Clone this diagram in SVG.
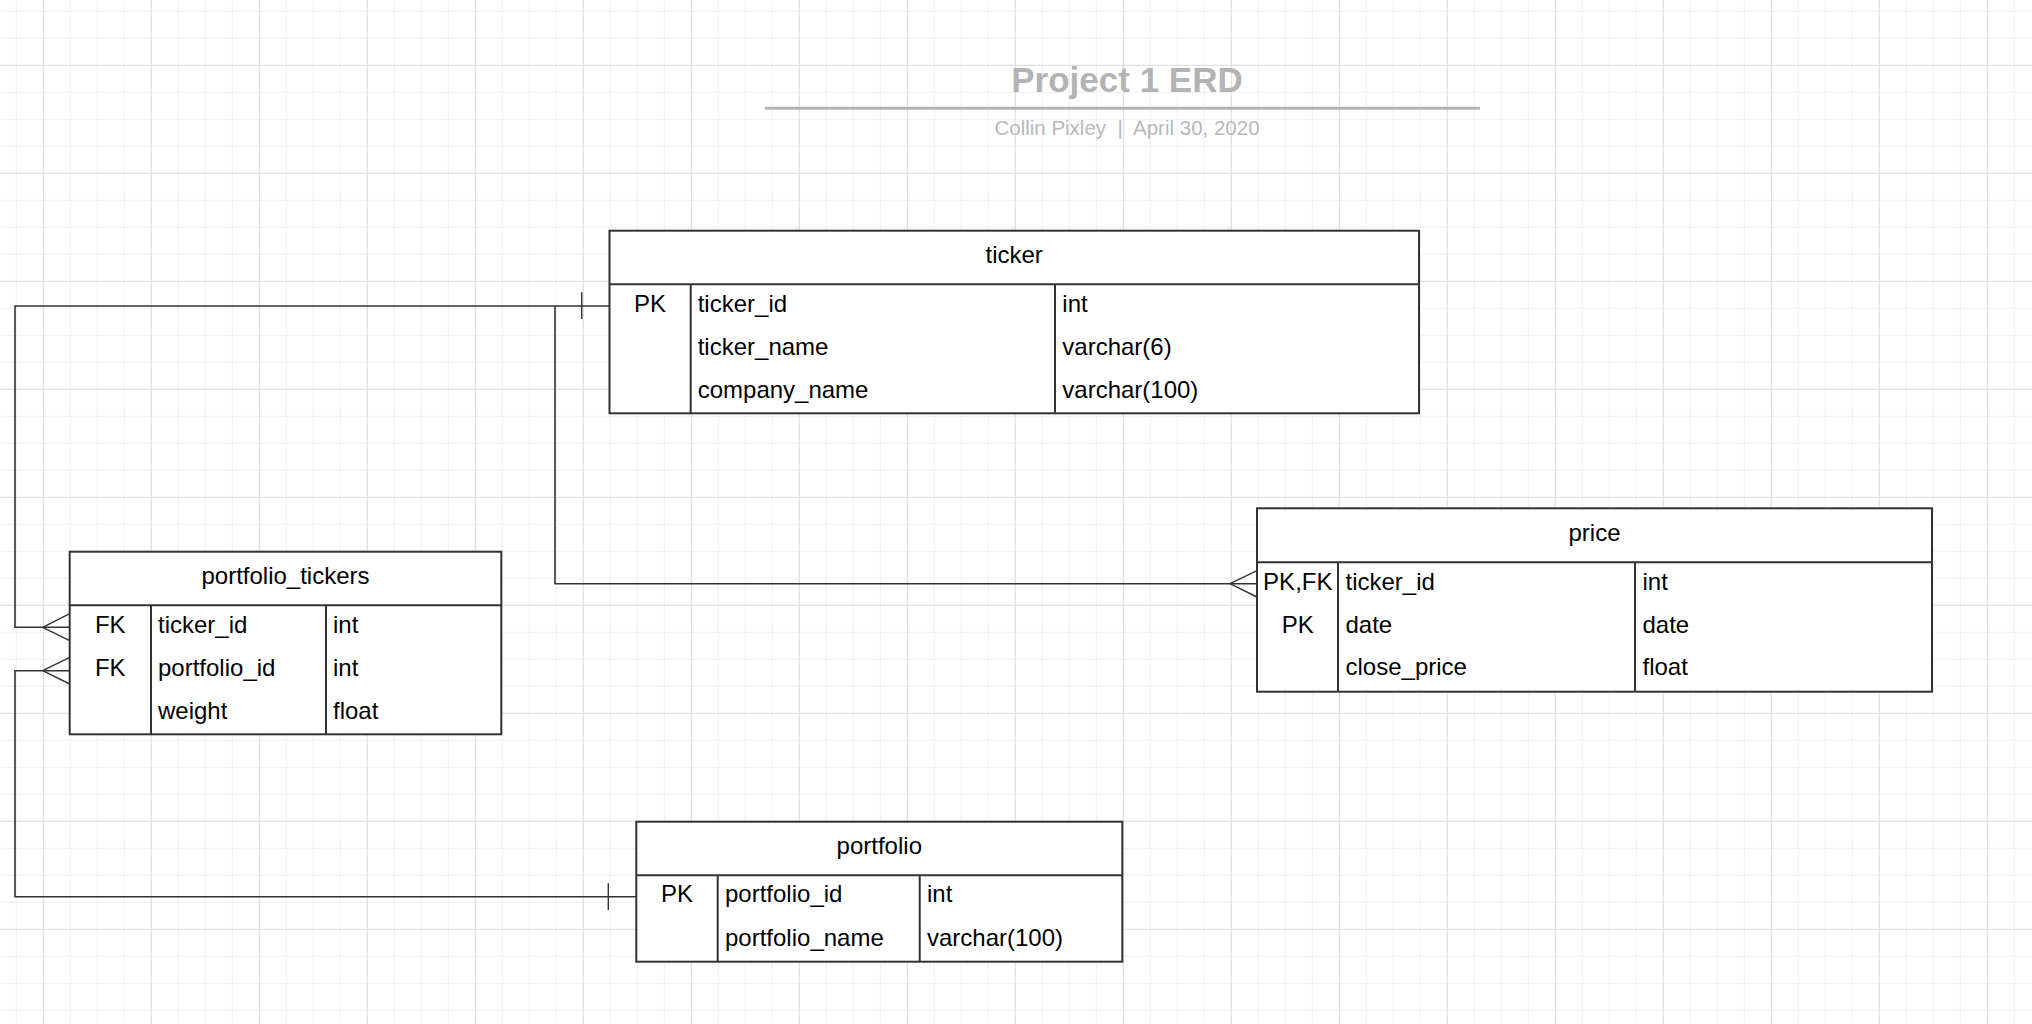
<svg xmlns="http://www.w3.org/2000/svg" width="2032" height="1024" viewBox="0 0 2032 1024">
<defs>
<pattern id="minor" patternUnits="userSpaceOnUse" x="15.8" y="10.8" width="27" height="27">
<rect x="0" y="0" width="1" height="27" fill="#efefef"/>
<rect x="0" y="0" width="27" height="1" fill="#efefef"/>
</pattern>
<pattern id="major" patternUnits="userSpaceOnUse" x="42.8" y="64.8" width="108" height="108">
<rect x="0" y="0" width="1" height="108" fill="#dedede"/>
<rect x="0" y="0" width="108" height="1" fill="#dedede"/>
</pattern>
</defs>
<style>
.tbl{fill:#fff;stroke:#333;stroke-width:2}
.div{stroke:#333;stroke-width:2;fill:none}
.t{font-family:"Liberation Sans",Arial,sans-serif;font-size:24px;fill:#000}
.c{text-anchor:middle}
.con{stroke:#333;stroke-width:1.6;fill:none}
.foot{stroke:#333;stroke-width:1.4;fill:none}
</style>
<rect width="2032" height="1024" fill="#fff"/>
<rect width="2032" height="1024" fill="url(#minor)"/>
<rect width="2032" height="1024" fill="url(#major)"/>

<g id="title">
<text x="1127" y="91.5" text-anchor="middle" font-family="Liberation Sans, Arial, sans-serif" font-size="35" font-weight="bold" fill="#b3b3b3">Project 1 ERD</text>
<line x1="765" y1="108.3" x2="1480" y2="108.3" stroke="#b3b3b3" stroke-width="3"/>
<text x="1127" y="135" text-anchor="middle" font-family="Liberation Sans, Arial, sans-serif" font-size="20.5" fill="#b8b8b8" xml:space="preserve">Collin Pixley  |  April 30, 2020</text>
</g>

<g id="connectors">
<path class="con" d="M609.5 306 H15 V627.3 H69.7"/>
<path class="foot" d="M42.7 627.3 L69.7 613.7 M42.7 627.3 L69.7 640.7"/>
<path class="foot" d="M581.7 292.3 V319"/>
<path class="con" d="M555 306 V583.7 H1257"/>
<path class="foot" d="M1230 583.7 L1257 570.7 M1230 583.7 L1257 597"/>
<path class="con" d="M636.3 896.7 H15 V670.7 H69.7"/>
<path class="foot" d="M42.7 670.7 L69.7 657.3 M42.7 670.7 L69.7 684"/>
<path class="foot" d="M608.3 883.3 V910"/>
</g>

<g id="ticker">
<rect class="tbl" x="609.5" y="230.7" width="809.5" height="182.6"/>
<path class="div" d="M609.5 284.3 H1419 M690.7 284.3 V413.3 M1055 284.3 V413.3"/>
<text class="t c" x="1014.2" y="262.8">ticker</text>
<text class="t c" x="650.1" y="312">PK</text>
<text class="t" x="697.7" y="312">ticker_id</text>
<text class="t" x="697.7" y="355">ticker_name</text>
<text class="t" x="697.7" y="398.3">company_name</text>
<text class="t" x="1062.3" y="312">int</text>
<text class="t" x="1062.3" y="355">varchar(6)</text>
<text class="t" x="1062.3" y="398.3">varchar(100)</text>
</g>

<g id="portfolio_tickers">
<rect class="tbl" x="69.7" y="551.7" width="431.6" height="182.6"/>
<path class="div" d="M69.7 605.3 H501.3 M151 605.3 V734.3 M326 605.3 V734.3"/>
<text class="t c" x="285.5" y="584">portfolio_tickers</text>
<text class="t c" x="110.3" y="633.3">FK</text>
<text class="t c" x="110.3" y="675.5">FK</text>
<text class="t" x="158" y="633.3">ticker_id</text>
<text class="t" x="158" y="675.5">portfolio_id</text>
<text class="t" x="158" y="718.5">weight</text>
<text class="t" x="333" y="633.3">int</text>
<text class="t" x="333" y="675.5">int</text>
<text class="t" x="333" y="718.5">float</text>
</g>

<g id="price">
<rect class="tbl" x="1257" y="508.3" width="675" height="183.4"/>
<path class="div" d="M1257 562.3 H1932 M1338 562.3 V691.7 M1635 562.3 V691.7"/>
<text class="t c" x="1594.5" y="540.5">price</text>
<text class="t c" x="1297.8" y="590">PK,FK</text>
<text class="t c" x="1297.8" y="632.5">PK</text>
<text class="t" x="1345.5" y="590">ticker_id</text>
<text class="t" x="1345.5" y="632.5">date</text>
<text class="t" x="1345.5" y="675.3">close_price</text>
<text class="t" x="1642.5" y="590">int</text>
<text class="t" x="1642.5" y="632.5">date</text>
<text class="t" x="1642.5" y="675.3">float</text>
</g>

<g id="portfolio">
<rect class="tbl" x="636.3" y="821.7" width="486" height="140"/>
<path class="div" d="M636.3 875.3 H1122.3 M717.7 875.3 V961.7 M919.7 875.3 V961.7"/>
<text class="t c" x="879.3" y="853.5">portfolio</text>
<text class="t c" x="677" y="902">PK</text>
<text class="t" x="725" y="902">portfolio_id</text>
<text class="t" x="725" y="945.5">portfolio_name</text>
<text class="t" x="927" y="902">int</text>
<text class="t" x="927" y="945.5">varchar(100)</text>
</g>
</svg>
